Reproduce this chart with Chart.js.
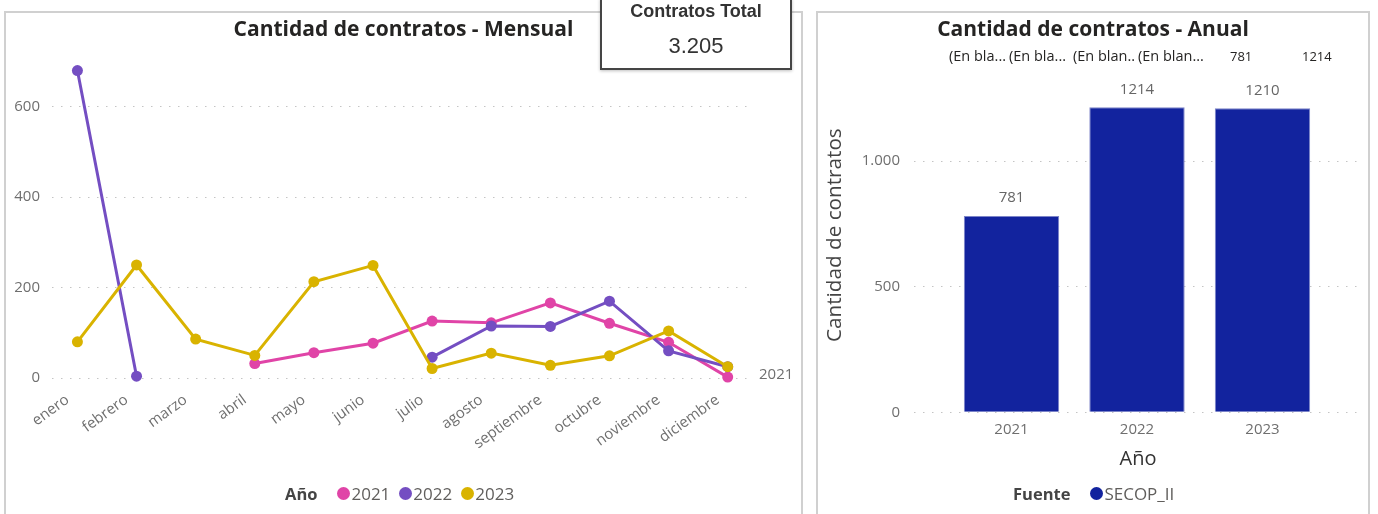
<!DOCTYPE html>
<html lang="es">
<head>
<meta charset="utf-8">
<title>Cantidad de contratos</title>
<script src="https://cdn.jsdelivr.net/npm/chart.js@4.4.1/dist/chart.umd.min.js"></script>
<style>
  html, body { margin: 0; padding: 0; background: #fff; }
  body { position: relative; width: 1378px; height: 514px; overflow: hidden; font-family: "Open Sans", sans-serif; }
  .panel { position: absolute; box-sizing: border-box; border: 2px solid #d0d0d0; background: #fff; }
  canvas { position: absolute; top: 0; }
  .titulo { position: absolute; top: 16px; font-weight: 700; font-size: 21px; line-height: 24px; color: #252423; text-align: center; }
  .leyenda { position: absolute; top: 482px; height: 22px; display: flex; align-items: center; font-size: 17px; color: #605e5c; white-space: nowrap; }
  .leyenda b { color: #444; margin-right: 20px; font-size: 16.5px; }
  .leyenda .item { display: flex; align-items: center; margin-right: 9px; }
  .leyenda .punto { width: 13px; height: 13px; border-radius: 50%; margin-right: 1px; }
  .tarjeta { position: absolute; left: 600px; top: -2px; width: 192px; height: 72px; box-sizing: border-box;
             border: 2px solid #454545; background: #fff; box-shadow: 0 1px 3px rgba(0,0,0,0.25);
             font-family: "Liberation Sans", Arial, sans-serif; color: #333; text-align: center; }
  .tarjeta .nombre { position: absolute; left: 0; right: 0; top: 0; font-size: 18px; font-weight: 700; line-height: 22px; }
  .tarjeta .valor { position: absolute; left: 0; right: 0; top: 33px; font-size: 22px; line-height: 26px; }
  .fila { position: absolute; top: 48px; font-size: 13px; line-height: 17px; color: #252423; white-space: nowrap; }
  .fila.corta { font-size: 14.5px; top: 47px; }
</style>
</head>
<body>
<div class="panel" style="left:4px; top:11px; width:799px; height:520px;"></div>
<div class="panel" style="left:816px; top:11px; width:554px; height:520px;"></div>

<canvas id="chartMensual" width="805" height="514" style="left:0;"></canvas>
<canvas id="chartAnual" width="573" height="514" style="left:805px;"></canvas>

<div class="titulo" style="left:4px; width:799px;">Cantidad de contratos - Mensual</div>
<div class="titulo" style="left:816px; width:554px;">Cantidad de contratos - Anual</div>

<div class="tarjeta">
  <div class="nombre">Contratos Total</div>
  <div class="valor" id="valorTotal"></div>
</div>

<div id="filaEncabezado"></div>
<div class="leyenda" id="leyendaMensual" style="left:285px;"></div>
<div class="leyenda" id="leyendaAnual" style="left:1013px;"></div>

<script>
// Meses del eje X del gráfico mensual
const meses = ['enero', 'febrero', 'marzo', 'abril', 'mayo', 'junio', 'julio',
               'agosto', 'septiembre', 'octubre', 'noviembre', 'diciembre'];

// Contratos por mes y año (null = sin datos)
const contratos2021 = [null, null, null, 32, 56, 77, 126, 122, 166, 121, 79, 2];
const contratos2022 = [680, 4, null, null, null, null, 46, 115, 114, 170, 60, 25];
const contratos2023 = [80, 250, 86, 50, 213, 249, 21, 55, 28, 49, 104, 25];

const anios = ['2021', '2022', '2023'];
const coloresAnio = ['#E044A7', '#744EC2', '#D9B300'];
const ticksMensual = [0, 200, 400, 600];

// Totales anuales
const aniosAnual = [2021, 2022, 2023];
const totalesAnual = [781, 1214, 1210];
const ticksAnual = [0, 500, 1000];
const fuente = 'SECOP_II';
const colorFuente = '#12239E';

const FUENTE = '"Segoe UI", "Open Sans", sans-serif';
const GRIS_TICK = '#6f6f6f';

function formatoMiles(v) {
  return String(v).replace(/\B(?=(\d{3})+(?!\d))/g, '.');
}

// ---- tarjeta y textos auxiliares ----
const total = totalesAnual.reduce((a, b) => a + b, 0);
document.getElementById('valorTotal').textContent = formatoMiles(total);

const encabezados = [
  { texto: '(En bla...', x: 949, corta: true },
  { texto: '(En bla...', x: 1009, corta: true },
  { texto: '(En blan..', x: 1073, corta: true },
  { texto: '(En blan...', x: 1138, corta: true },
  { texto: String(totalesAnual[0]), x: 1230 },
  { texto: String(totalesAnual[1]), x: 1302 }
];
const fila = document.getElementById('filaEncabezado');
encabezados.forEach(e => {
  const s = document.createElement('span');
  s.className = e.corta ? 'fila corta' : 'fila';
  s.style.left = e.x + 'px';
  s.textContent = e.texto;
  fila.appendChild(s);
});

function armarLeyenda(id, titulo, etiquetas, colores) {
  const el = document.getElementById(id);
  const b = document.createElement('b');
  b.textContent = titulo;
  el.appendChild(b);
  etiquetas.forEach((t, i) => {
    const item = document.createElement('span');
    item.className = 'item';
    const p = document.createElement('span');
    p.className = 'punto';
    p.style.background = colores[i];
    item.appendChild(p);
    item.appendChild(document.createTextNode(t));
    el.appendChild(item);
  });
}
armarLeyenda('leyendaMensual', 'Año', anios, coloresAnio);
armarLeyenda('leyendaAnual', 'Fuente', [fuente], [colorFuente]);

// ---- gráfico mensual (líneas) ----
const seriesMensual = [contratos2021, contratos2022, contratos2023];

// etiqueta del año al final de la primera serie
const etiquetaFinal = {
  id: 'etiquetaFinal',
  afterDatasetsDraw(chart) {
    const meta = chart.getDatasetMeta(0);
    const ultimo = meta.data[meta.data.length - 1];
    const ctx = chart.ctx;
    ctx.save();
    ctx.font = '15px ' + FUENTE;
    ctx.fillStyle = GRIS_TICK;
    ctx.textAlign = 'left';
    ctx.textBaseline = 'middle';
    ctx.fillText(chart.data.datasets[0].label, chart.chartArea.right + 10, ultimo.y - 2);
    ctx.restore();
  }
};

new Chart(document.getElementById('chartMensual'), {
  type: 'line',
  data: {
    datasets: seriesMensual.map((serie, i) => ({
      label: anios[i],
      data: serie.map((v, m) => ({ x: m, y: v })),
      borderColor: coloresAnio[i],
      backgroundColor: coloresAnio[i],
      borderWidth: 3,
      pointRadius: 5.5,
      pointHoverRadius: 5.5,
      pointBorderWidth: 0,
      tension: 0,
      spanGaps: false,
      clip: false,
      order: seriesMensual.length - i
    }))
  },
  options: {
    responsive: false,
    animation: false,
    layout: { padding: { left: 0, right: 56, top: 61.5, bottom: 36 } },
    plugins: { legend: { display: false }, tooltip: { enabled: false } },
    scales: {
      x: {
        type: 'linear',
        min: -0.43,
        max: 11.36,
        offset: false,
        afterBuildTicks: s => { s.ticks = meses.map((m, i) => ({ value: i })); },
        afterFit: s => { s.height = 100; s.paddingLeft = 0; s.paddingRight = 0; },
        grid: { display: false },
        border: { display: false },
        ticks: {
          autoSkip: false,
          minRotation: 36,
          maxRotation: 36,
          padding: 5,
          labelOffset: -10,
          callback: v => meses[v],
          color: GRIS_TICK,
          font: { family: FUENTE, size: 15 }
        }
      },
      y: {
        min: 0,
        max: 700,
        afterBuildTicks: s => { s.ticks = ticksMensual.map(v => ({ value: v })); },
        afterFit: s => { s.width = 52; s.paddingTop = 0; s.paddingBottom = 0; },
        grid: { color: '#c4c4c4', lineWidth: 1, drawTicks: false },
        border: { display: false, dash: [1.5, 7.5] },
        ticks: {
          padding: 12,
          color: GRIS_TICK,
          font: { family: FUENTE, size: 15 },
          callback: v => formatoMiles(v)
        }
      }
    }
  },
  plugins: [etiquetaFinal]
});

// ---- gráfico anual (barras) ----
const etiquetasBarra = {
  id: 'etiquetasBarra',
  afterDatasetsDraw(chart) {
    const meta = chart.getDatasetMeta(0);
    const ctx = chart.ctx;
    ctx.save();
    ctx.font = '15px ' + FUENTE;
    ctx.fillStyle = '#666';
    ctx.textAlign = 'center';
    ctx.textBaseline = 'middle';
    meta.data.forEach((barra, i) => {
      ctx.fillText(String(totalesAnual[i]), barra.x, barra.y - 18);
    });
    ctx.restore();
  }
};

new Chart(document.getElementById('chartAnual'), {
  type: 'bar',
  data: {
    datasets: [{
      label: fuente,
      data: aniosAnual.map((a, i) => ({ x: a, y: totalesAnual[i] })),
      backgroundColor: colorFuente,
      borderColor: '#7c84c8',
      borderWidth: 1,
      barPercentage: 0.76,
      categoryPercentage: 1
    }]
  },
  options: {
    responsive: false,
    animation: false,
    layout: { padding: { left: 0, right: 16, top: 58, bottom: 31.7 } },
    plugins: { legend: { display: false }, tooltip: { enabled: false } },
    scales: {
      x: {
        type: 'linear',
        min: 2020.223,
        max: 2023.793,
        offset: false,
        afterBuildTicks: s => { s.ticks = aniosAnual.map(v => ({ value: v })); },
        afterFit: s => { s.height = 70; s.paddingLeft = 0; s.paddingRight = 0; },
        grid: { display: false },
        border: { display: false },
        ticks: {
          padding: 0,
          color: GRIS_TICK,
          font: { family: FUENTE, size: 15 },
          callback: v => String(v)
        },
        title: {
          display: true,
          text: 'Año',
          color: '#333',
          font: { family: FUENTE, size: 20 },
          padding: { top: 0, bottom: 11 }
        }
      },
      y: {
        min: 0,
        max: 1410,
        afterBuildTicks: s => { s.ticks = ticksAnual.map(v => ({ value: v })); },
        afterFit: s => { s.width = 109; s.paddingTop = 0; s.paddingBottom = 0; },
        grid: { color: '#c4c4c4', lineWidth: 1, drawTicks: false },
        border: { display: false, dash: [1.5, 7.5] },
        ticks: {
          padding: 14,
          color: GRIS_TICK,
          font: { family: FUENTE, size: 15 },
          callback: v => formatoMiles(v)
        },
        title: {
          display: true,
          text: 'Cantidad de contratos',
          color: '#444',
          font: { family: FUENTE, size: 20.7 },
          padding: { top: 18, bottom: 0 }
        }
      }
    }
  },
  plugins: [etiquetasBarra]
});
</script>
</body>
</html>
